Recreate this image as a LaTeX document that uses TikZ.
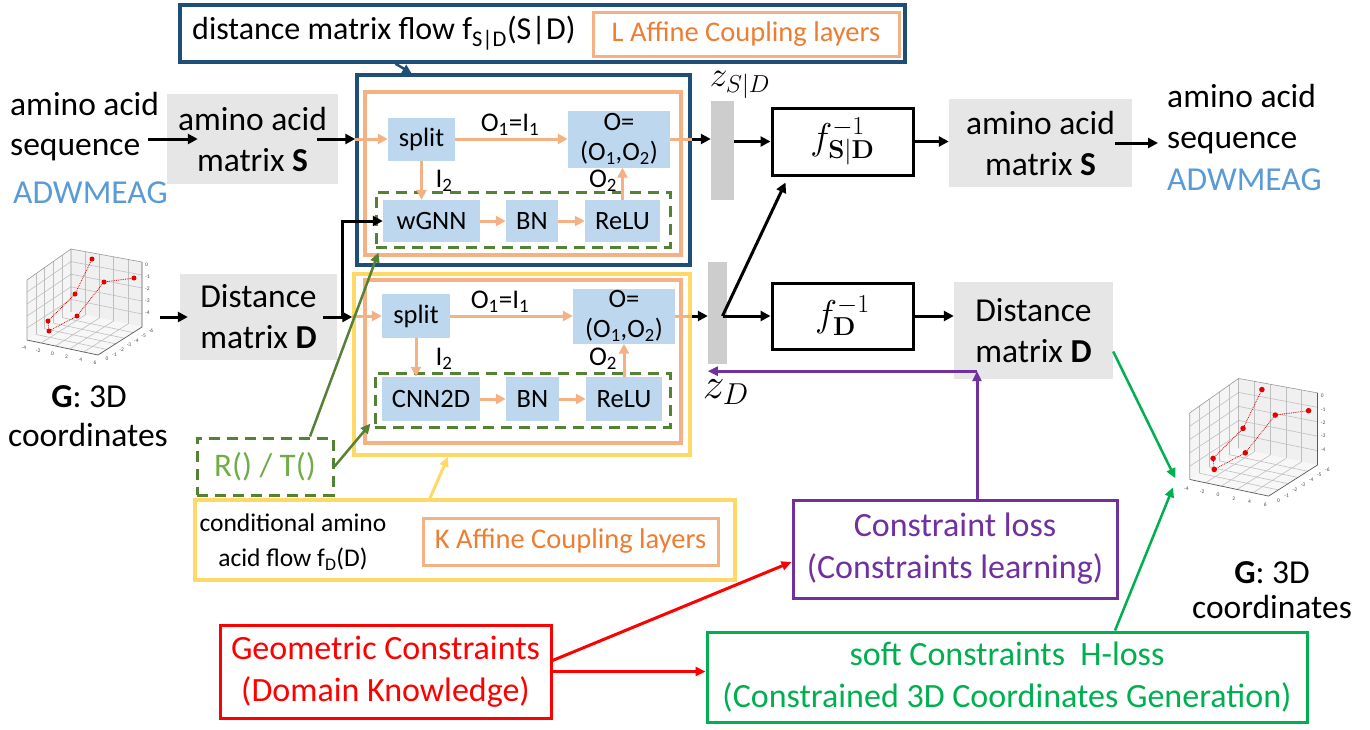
\documentclass[tikz,border=0pt]{standalone}
\usepackage{graphicx}
\usepackage[no-math]{fontspec}
\setmainfont{Carlito}
\usetikzlibrary{arrows.meta,calc}
\definecolor{dblue}{RGB}{31,78,121}
\definecolor{lorange}{RGB}{244,177,131}
\definecolor{dorange}{RGB}{237,125,49}
\definecolor{lblue}{RGB}{189,215,238}
\definecolor{dgreen}{RGB}{84,130,53}
\definecolor{lgreen}{RGB}{112,173,71}
\definecolor{yell}{RGB}{255,217,102}
\definecolor{boxgray}{RGB}{231,230,230}
\definecolor{bargray}{RGB}{205,205,205}
\definecolor{skyb}{RGB}{91,155,213}
\definecolor{purp}{RGB}{112,48,160}
\definecolor{grn}{RGB}{0,176,80}
\tikzset{
  big/.style={font=\fontsize{33.5}{41}\selectfont},
  tfont/.style={font=\fontsize{32}{36}\selectfont},
  mid/.style={font=\fontsize{28.5}{34}\selectfont},
  cfont/.style={font=\fontsize{25.5}{35}\selectfont},
  sm/.style={font=\fontsize{26.5}{30}\selectfont},
  lab/.style={font=\fontsize{27}{30}\selectfont, inner sep=0},
  bot/.style={font=\fontsize{34}{42}\selectfont, align=center},
  mth/.style={font=\fontsize{24}{28}\selectfont},
  txt/.style={inner sep=0},
  graybox/.style={fill=boxgray, inner sep=0, align=center, big},
  bluebox/.style={fill=lblue, inner sep=0, align=center, sm},
  bar/.style={fill=bargray, inner sep=0},
  oarr/.style={draw=lorange, line width=3pt, -{Triangle[length=10pt,width=10pt]}},
  karr/.style={draw=black, line width=3pt, -{Triangle[length=10pt,width=10pt]}},
  garr/.style={draw=dgreen, line width=2.5pt, -{Triangle[length=10pt,width=9pt]}},
  dgbox/.style={draw=dgreen, dashed, dash pattern=on 11pt off 7pt, line width=3pt, inner sep=0},
  tick/.style={font=\fontsize{5.5}{6}\selectfont, inner sep=0, text=black!70},
  plotthree/.pic={
    \fill[black!4] (7,35)--(51,4)--(51,67)--(7,95)--cycle;
    \fill[black!6] (51,4)--(122,17)--(122,82)--(51,67)--cycle;
    \fill[black!3] (7,95)--(51,67)--(122,82)--(78,110)--cycle;
    \foreach \t in {0.2,0.4,0.6,0.8}{
      \draw[black!25, line width=0.6pt] ({7+44*\t},{35-31*\t}) -- ({7+44*\t},{95-28*\t});
      \draw[black!25, line width=0.6pt] (7,{35+60*\t}) -- (51,{4+63*\t});
      \draw[black!25, line width=0.6pt] ({51+71*\t},{4+13*\t}) -- ({51+71*\t},{67+15*\t});
      \draw[black!25, line width=0.6pt] (51,{4+63*\t}) -- (122,{17+65*\t});
      \draw[black!25, line width=0.6pt] ({7+71*\t},{95+15*\t}) -- ({51+71*\t},{67+15*\t});
      \draw[black!25, line width=0.6pt] ({7+44*\t},{95-28*\t}) -- ({78+44*\t},{110-28*\t});
    }
    \draw[black!40, line width=0.6pt] (7,35)--(51,4)--(122,17) (51,4)--(51,67) (7,35)--(7,95);
    \draw[black!65, line width=0.7pt] (122,17)--(122,82)--(78,110)--(7,95);
    \foreach \v [count=\i] in {0,-1,-2,-3,-4}
      \node[tick, anchor=west] (zl\i) at (125,{20+12*(\i-1)}) {\v};
    \foreach \v [count=\i] in {-4,-2,0,2,4,6}
      \node[tick] (xl\i) at ({7+71*(\i-1)/5-3},{95+15*(\i-1)/5+8}) {\v};
    \foreach \v [count=\i] in {0,-1,-2,-3,-4,-5,-6}
      \node[tick] (yl\i) at ({78+44*(\i-1)/6+9},{110-28*(\i-1)/6+4}) {\v};
    \draw[red!85!black, densely dotted, line width=0.8pt] (72,14)--(55,49)--(28,76)--(29,86)--(57,71)--(84,37)--(114,33);
    \foreach \p in {(72,14),(55,49),(28,76),(29,86),(57,71),(84,37),(114,33)}
      \fill[red!90!black] \p circle (2.5);
    \coordinate (-a) at (-6,94);
    \coordinate (-b) at (-8,102);
  }
}
\begin{document}
\begin{tikzpicture}[x=1pt,y=-1pt]
\useasboundingbox (0,0) rectangle (1370,729);

% ---------- title ----------
\node[draw=dblue, line width=3.5pt, minimum width=725pt, minimum height=57pt, inner sep=0] (tbox) at (542.5,33.5) {};
\node[tfont, txt, anchor=west] (ttext) at (192,33) {distance matrix flow f\textsubscript{S|D}(S|D)};
\node[draw=lorange, line width=3pt, minimum width=306pt, minimum height=44pt, inner sep=0, text=dorange, mid] (lbox) at (746,34) {L Affine Coupling layers};

% ---------- upper flow ----------
\node[draw=dblue, line width=3.5pt, minimum width=333pt, minimum height=190pt, inner sep=0] (fbS) at (523.5,170) {};
\node[draw=lorange, line width=3.5pt, minimum width=316pt, minimum height=163pt, inner sep=0] (obS) at (523,173.5) {};
\node[dgbox, minimum width=294pt, minimum height=55pt] (gS) at (523,219.5) {};
\node[bluebox, minimum width=67pt, minimum height=43pt] (splitS) at (421.5,139) {split};
\node[bluebox, minimum width=102pt, minimum height=57pt] (OS) at (619,139) {O=\\(O\textsubscript{1},O\textsubscript{2})};
\node[bluebox, minimum width=97pt, minimum height=42pt] (wGNN) at (431.5,221) {wGNN};
\node[bluebox, minimum width=52pt, minimum height=42pt] (BNS) at (532,221) {BN};
\node[bluebox, minimum width=75pt, minimum height=42pt] (ReLUS) at (622.5,221) {ReLU};
\node[lab] (o1S) at (510,125) {O\textsubscript{1}=I\textsubscript{1}};
\node[lab] (i2S) at (444,181) {I\textsubscript{2}};
\node[lab] (o2S) at (603,181) {O\textsubscript{2}};
\draw[oarr] (fbS.west |- splitS.west) -- (splitS.west);
\draw[oarr] (splitS.east) -- (OS.west);
\draw[oarr] (splitS.south) -- (splitS.south |- wGNN.north);
\draw[oarr] (wGNN.east) -- (BNS.west);
\draw[oarr] (BNS.east) -- (ReLUS.west);
\draw[oarr] (ReLUS.north) -- (ReLUS.north |- OS.south);
\draw[draw=lorange, line width=3pt] (OS.east) -- (fbS.east |- OS.east);

% ---------- lower flow ----------
\node[draw=yell, line width=3.5pt, minimum width=336pt, minimum height=181pt, inner sep=0] (fbD) at (522,364.5) {};
\node[draw=lorange, line width=3.5pt, minimum width=316pt, minimum height=163pt, inner sep=0] (obD) at (523,361.5) {};
\node[dgbox, minimum width=295pt, minimum height=54pt] (gD) at (522.5,400) {};
\node[bluebox, minimum width=68pt, minimum height=44pt] (splitD) at (416,316) {split};
\node[bluebox, minimum width=102pt, minimum height=55pt] (OD) at (624,316) {O=\\(O\textsubscript{1},O\textsubscript{2})};
\node[bluebox, minimum width=98pt, minimum height=44pt] (CNN) at (431,399) {CNN2D};
\node[bluebox, minimum width=53pt, minimum height=44pt] (BND) at (532.5,399) {BN};
\node[bluebox, minimum width=76pt, minimum height=44pt] (ReLUD) at (624,399) {ReLU};
\node[lab] (o1D) at (500,302) {O\textsubscript{1}=I\textsubscript{1}};
\node[lab] (i2D) at (444,359) {I\textsubscript{2}};
\node[lab] (o2D) at (603,359) {O\textsubscript{2}};
\draw[oarr] (fbD.west |- splitD.west) -- (splitD.west);
\draw[oarr] (splitD.east) -- (OD.west);
\draw[oarr] (splitD.south) -- (splitD.south |- CNN.north);
\draw[oarr] (CNN.east) -- (BND.west);
\draw[oarr] (BND.east) -- (ReLUD.west);
\draw[oarr] (ReLUD.north) -- (ReLUD.north |- OD.south);
\draw[draw=lorange, line width=3pt] (OD.east) -- (fbD.east |- OD.east);

% ---------- latent bars ----------
\node[bar, minimum width=23pt, minimum height=99pt] (zSD) at (722.5,150.5) {};
\node[bar, minimum width=19pt, minimum height=102pt] (zD) at (717.5,313) {};
\node[txt, mth] (zSDl) at (740,85) {\scalebox{1.42}{$z_{S|D}$}};
\node[txt, mth] (zDl) at (726,392) {\scalebox{1.75}{$z_D$}};
\draw[karr] (fbS.east |- OS.east) -- (zSD.west |- OS.east);
\draw[karr] (fbD.east |- OD.east) -- (zD.west |- OD.east);

% ---------- inverse flows ----------
\node[draw, line width=3pt, minimum width=141pt, minimum height=67pt, inner sep=0, mth] (finvS) at (842.5,141.5) {\scalebox{1.5}{$f^{-1}_{\mathbf{S|D}}$}};
\node[draw, line width=3pt, minimum width=141pt, minimum height=66pt, inner sep=0, mth] (finvD) at (842.5,316) {\scalebox{1.5}{$f^{-1}_{\mathbf{D}}$}};
\coordinate (zDo) at ([xshift=5pt]zD.center |- finvD.west);
\draw[karr] (zSD.east |- finvS.west) -- (finvS.west);
\draw[karr] (zDo) -- (finvD.west);
\draw[karr] (zDo) -- ([xshift=15pt,yshift=-6pt]finvS.south west);

% ---------- right outputs ----------
\node[graybox, minimum width=183pt, minimum height=88pt] (matSR) at (1040.5,143) {amino acid\\matrix \textbf{S}};
\node[graybox, minimum width=159pt, minimum height=97pt] (DR) at (1033.5,330.5) {Distance\\matrix \textbf{D}};
\draw[karr] (finvS.east) -- (matSR.west |- finvS.east);
\draw[karr] (finvD.east) -- (DR.west |- finvD.east);
\node[big, txt, anchor=base west] (seqR1) at (1167,107) {amino acid};
\node[big, txt, anchor=base west] (seqR2) at (1167,148) {sequence};
\node[big, txt, anchor=base west, text=skyb] (adwR) at (1167,190) {ADWMEAG};
\draw[karr] ([xshift=-17pt]matSR.east) -- ([xshift=-9pt]seqR2.west |- matSR.east);

% ---------- left inputs ----------
\node[big, txt, anchor=base west] (seqL1) at (10,115) {amino acid};
\node[big, txt, anchor=base west] (seqL2) at (10,155) {sequence};
\node[big, txt, anchor=base west, text=skyb] (adwL) at (13,203) {ADWMEAG};
\node[graybox, minimum width=171pt, minimum height=90pt] (matSL) at (252.5,139) {amino acid\\matrix \textbf{S}};
\draw[karr] ([xshift=8pt]seqL2.east |- matSL.west) -- ([xshift=31pt]matSL.west);
\draw[karr] ([xshift=-21pt]matSL.east |- splitS.west) -- (fbS.west |- splitS.west);

\pic (pL) at (20,245) {plotthree};
\node[graybox, minimum width=157pt, minimum height=86pt] (DL) at (258.5,317) {Distance\\matrix \textbf{D}};
\draw[karr] ([xshift=-20pt]DL.west) -- ([xshift=8pt]DL.west);
\node[big, txt, anchor=base] (gL1) at (89,407) {\textbf{G}: 3D};
\node[big, txt, anchor=base] (gL2) at (88,446) {coordinates};
\coordinate (br) at ([xshift=5pt]DL.east);
\draw[karr] ([xshift=-14pt]DL.east) -- (fbD.west |- DL.east);
\draw[line width=3pt] (br) -- (br |- wGNN.west);
\draw[karr] ([xshift=-1.5pt]br |- wGNN.west) -- (wGNN.west);

\draw[draw=dblue, line width=2.5pt, -{Triangle[length=9pt,width=9pt]}] ([xshift=-147pt]tbox.south) -- ([xshift=-112pt]fbS.north);

% ---------- bottom ----------
\node[dgbox, minimum width=136pt, minimum height=57pt, text=lgreen, font=\fontsize{33}{36}\selectfont] (RT) at (265,466.5) {R() / T()};
\draw[garr] ([xshift=45pt]RT.north) -- ([xshift=4pt,yshift=-4pt]gS.south west);
\draw[garr] (RT.east) -- ([xshift=-3pt,yshift=5pt]gD.south west);

\node[draw=yell, line width=3.5pt, minimum width=540pt, minimum height=80pt, inner sep=0] (cond) at (465,540) {};
\node[cfont, txt, align=center] (condt) at (293,542) {conditional amino\\acid flow f\textsubscript{D}(D)};
\node[draw=lorange, line width=3pt, minimum width=295pt, minimum height=47pt, inner sep=0, text=dorange, mid] (kbox) at (570.5,541.5) {K Affine Coupling layers};
\draw[draw=yell, line width=3pt, -{Triangle[length=10pt,width=9pt]}] ([xshift=-35pt]cond.north) -- ([xshift=-74pt]fbD.south);

\node[draw=purp, line width=3pt, minimum width=324pt, minimum height=98pt, inner sep=0, text=purp, bot] (CL) at (955,549) {Constraint loss\\(Constraints learning)};
\node[draw=red, line width=3pt, minimum width=331pt, minimum height=93pt, inner sep=0, text=red, bot] (GC) at (385.5,671.5) {Geometric Constraints\\(Domain Knowledge)};
\node[draw=grn, line width=3pt, minimum width=600pt, minimum height=90pt, inner sep=0, text=grn, bot] (SC) at (1007,677) {soft Constraints\ \ H-loss\\(Constrained 3D Coordinates Generation)};

\draw[draw=red, line width=3pt, -{Triangle[length=10pt,width=9pt]}] ([yshift=11pt]GC.east) -- ([yshift=-13pt]CL.west);
\draw[draw=red, line width=3pt, -{Triangle[length=10pt,width=9pt]}] (GC.east) -- (SC.west |- GC.east);

\coordinate (pc) at ([xshift=22pt,yshift=8pt]CL.north |- DR.south);
\draw[draw=purp, line width=3pt, -{Triangle[length=10pt,width=9pt]}] ([xshift=22pt]CL.north) -- (pc);
\draw[draw=purp, line width=3pt, -{Triangle[length=10pt,width=9pt]}] (pc) -- (zD.west |- pc);

\pic[scale=1.11] (pR) at (1182,374) {plotthree};
\node[big, txt, anchor=base] (gR1) at (1272,583) {\textbf{G}: 3D};
\node[big, txt, anchor=base] (gR2) at (1272,618) {coordinates};
\draw[draw=grn, line width=2.5pt, -{Triangle[length=10pt,width=9pt]}] ([yshift=-21pt]DR.east) -- (pR-a);
\draw[draw=grn, line width=2.5pt, -{Triangle[length=10pt,width=9pt]}] ([xshift=108pt]SC.north) -- (pR-b);
\end{tikzpicture}
\end{document}
